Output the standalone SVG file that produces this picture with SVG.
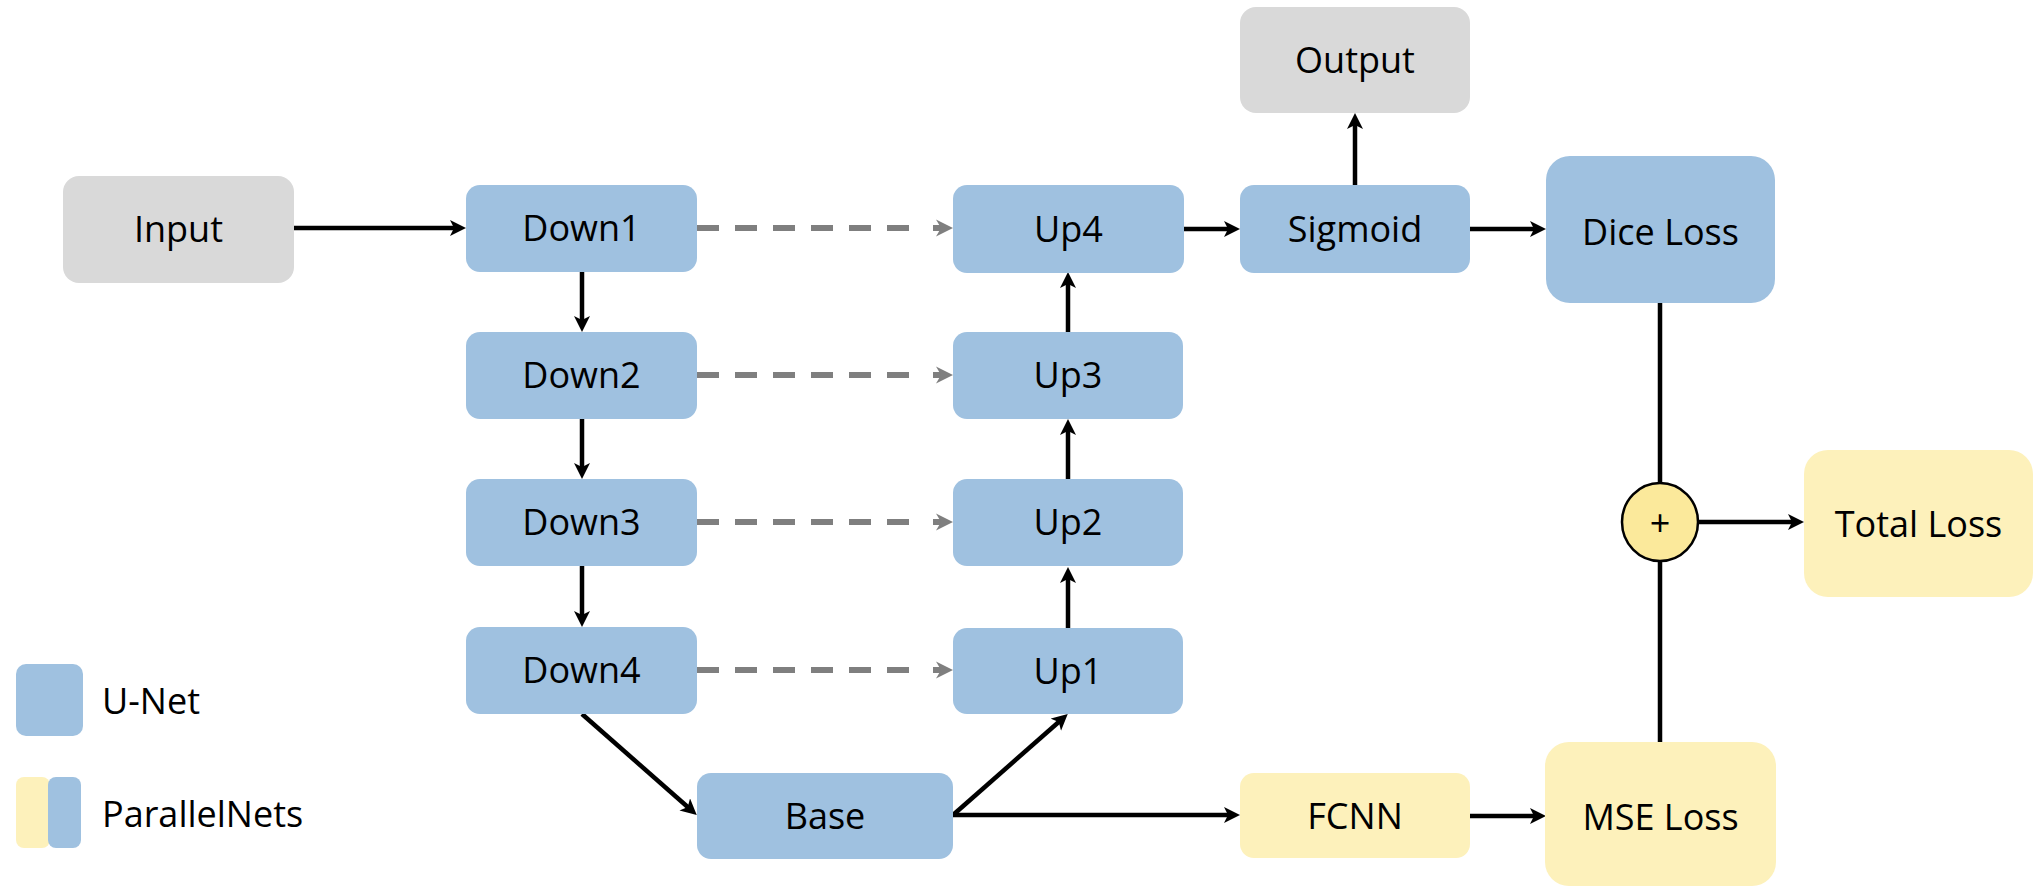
<svg xmlns="http://www.w3.org/2000/svg" width="2036" height="886" viewBox="0 0 2036 886">
  <style>
    .blue { fill: #9FC1E0; }
    .grey { fill: #D9D9D9; }
    .yellow { fill: #FDF1BB; }
    .label { font-family: "Open Sans", "Liberation Sans", sans-serif; font-size: 36px; fill: #000; text-anchor: middle; }
    .legend { font-family: "Open Sans", "Liberation Sans", sans-serif; font-size: 36px; fill: #000; }
    .flow { fill: none; stroke: #000; stroke-width: 4.5; marker-end: url(#head); }
    .plain { fill: none; stroke: #000; stroke-width: 4.5; }
    .skip { fill: none; stroke: #7F7F7F; stroke-width: 6; stroke-dasharray: 22 16; }
  </style>
  <defs>
    <marker id="head" markerUnits="userSpaceOnUse" markerWidth="17" markerHeight="17" refX="7" refY="8" orient="auto">
      <path d="M0,0 L16,8 L0,16 L4,8 Z" fill="#000"/>
    </marker>
    <!-- grey skip-connection arrowhead with a short stem, tip at the origin -->
    <g id="skip-head" fill="#7F7F7F">
      <rect x="-20" y="-3" width="10" height="6"/>
      <path d="M-17,-8.5 L0,0 L-17,8.5 L-12,0 Z"/>
    </g>
  </defs>

  <!-- connectors -->
  <g id="connectors">
    <path class="flow" d="M294,228 H457"/>
    <path class="flow" d="M582,272 V323"/>
    <path class="flow" d="M582,419 V470"/>
    <path class="flow" d="M582,566 V618"/>
    <path class="flow" d="M582,714 L690,809"/>
    <path class="flow" d="M953,815 L1061,720"/>
    <path class="flow" d="M953,815 H1231"/>
    <path class="flow" d="M1068,628 V576"/>
    <path class="flow" d="M1068,479 V428"/>
    <path class="flow" d="M1068,332 V281"/>
    <path class="flow" d="M1184,229 H1231"/>
    <path class="flow" d="M1355,185 V122"/>
    <path class="flow" d="M1470,229 H1537"/>
    <path class="flow" d="M1470,816 H1537"/>
    <path class="flow" d="M1698,522 H1795"/>
    <path class="plain" d="M1660,303 V484"/>
    <path class="plain" d="M1660,742 V560"/>
    <path class="skip" d="M697,228 H909"/>
    <path class="skip" d="M697,375 H909"/>
    <path class="skip" d="M697,522 H909"/>
    <path class="skip" d="M697,670 H909"/>
    <use href="#skip-head" x="953" y="228"/>
    <use href="#skip-head" x="953" y="375"/>
    <use href="#skip-head" x="953" y="522"/>
    <use href="#skip-head" x="953" y="670"/>
  </g>

  <!-- nodes -->
  <g id="input">
    <rect class="grey" x="63" y="176" width="231" height="107" rx="16"/>
    <text class="label" x="178.5" y="242">Input</text>
  </g>
  <g id="down1">
    <rect class="blue" x="466" y="185" width="231" height="87" rx="14"/>
    <text class="label" x="581.5" y="241">Down1</text>
  </g>
  <g id="down2">
    <rect class="blue" x="466" y="332" width="231" height="87" rx="14"/>
    <text class="label" x="581.5" y="388">Down2</text>
  </g>
  <g id="down3">
    <rect class="blue" x="466" y="479" width="231" height="87" rx="14"/>
    <text class="label" x="581.5" y="535">Down3</text>
  </g>
  <g id="down4">
    <rect class="blue" x="466" y="627" width="231" height="87" rx="14"/>
    <text class="label" x="581.5" y="683">Down4</text>
  </g>
  <g id="base">
    <rect class="blue" x="697" y="773" width="256" height="86" rx="14"/>
    <text class="label" x="825" y="829">Base</text>
  </g>
  <g id="up1">
    <rect class="blue" x="953" y="628" width="230" height="86" rx="14"/>
    <text class="label" x="1068" y="684">Up1</text>
  </g>
  <g id="up2">
    <rect class="blue" x="953" y="479" width="230" height="87" rx="14"/>
    <text class="label" x="1068" y="535">Up2</text>
  </g>
  <g id="up3">
    <rect class="blue" x="953" y="332" width="230" height="87" rx="14"/>
    <text class="label" x="1068" y="388">Up3</text>
  </g>
  <g id="up4">
    <rect class="blue" x="953" y="185" width="231" height="88" rx="14"/>
    <text class="label" x="1068.5" y="242">Up4</text>
  </g>
  <g id="sigmoid">
    <rect class="blue" x="1240" y="185" width="230" height="88" rx="14"/>
    <text class="label" x="1355" y="242">Sigmoid</text>
  </g>
  <g id="output">
    <rect class="grey" x="1240" y="7" width="230" height="106" rx="16"/>
    <text class="label" x="1355" y="73">Output</text>
  </g>
  <g id="fcnn">
    <rect class="yellow" x="1240" y="773" width="230" height="85" rx="14"/>
    <text class="label" x="1355" y="829">FCNN</text>
  </g>
  <g id="dice-loss">
    <rect class="blue" x="1546" y="156" width="229" height="147" rx="24"/>
    <text class="label" x="1660.5" y="245">Dice Loss</text>
  </g>
  <g id="mse-loss">
    <rect class="yellow" x="1545" y="742" width="231" height="144" rx="24"/>
    <text class="label" x="1660.5" y="830">MSE Loss</text>
  </g>
  <g id="total-loss">
    <rect class="yellow" x="1804" y="450" width="229" height="147" rx="24"/>
    <text class="label" x="1918.5" y="537">Total Loss</text>
  </g>
  <g id="sum">
    <ellipse cx="1660" cy="522" rx="38" ry="39" fill="#FBE99B" stroke="#000" stroke-width="2.5"/>
    <text class="label" x="1660" y="536">+</text>
  </g>

  <!-- legend -->
  <g id="legend-unet">
    <rect class="blue" x="16" y="664" width="67" height="72" rx="10"/>
    <text class="legend" x="102" y="714">U-Net</text>
  </g>
  <g id="legend-parallelnets">
    <rect class="yellow" x="16" y="777" width="34" height="71" rx="8"/>
    <rect class="blue" x="48" y="777" width="33" height="71" rx="8"/>
    <text class="legend" x="102" y="827">ParallelNets</text>
  </g>
</svg>
